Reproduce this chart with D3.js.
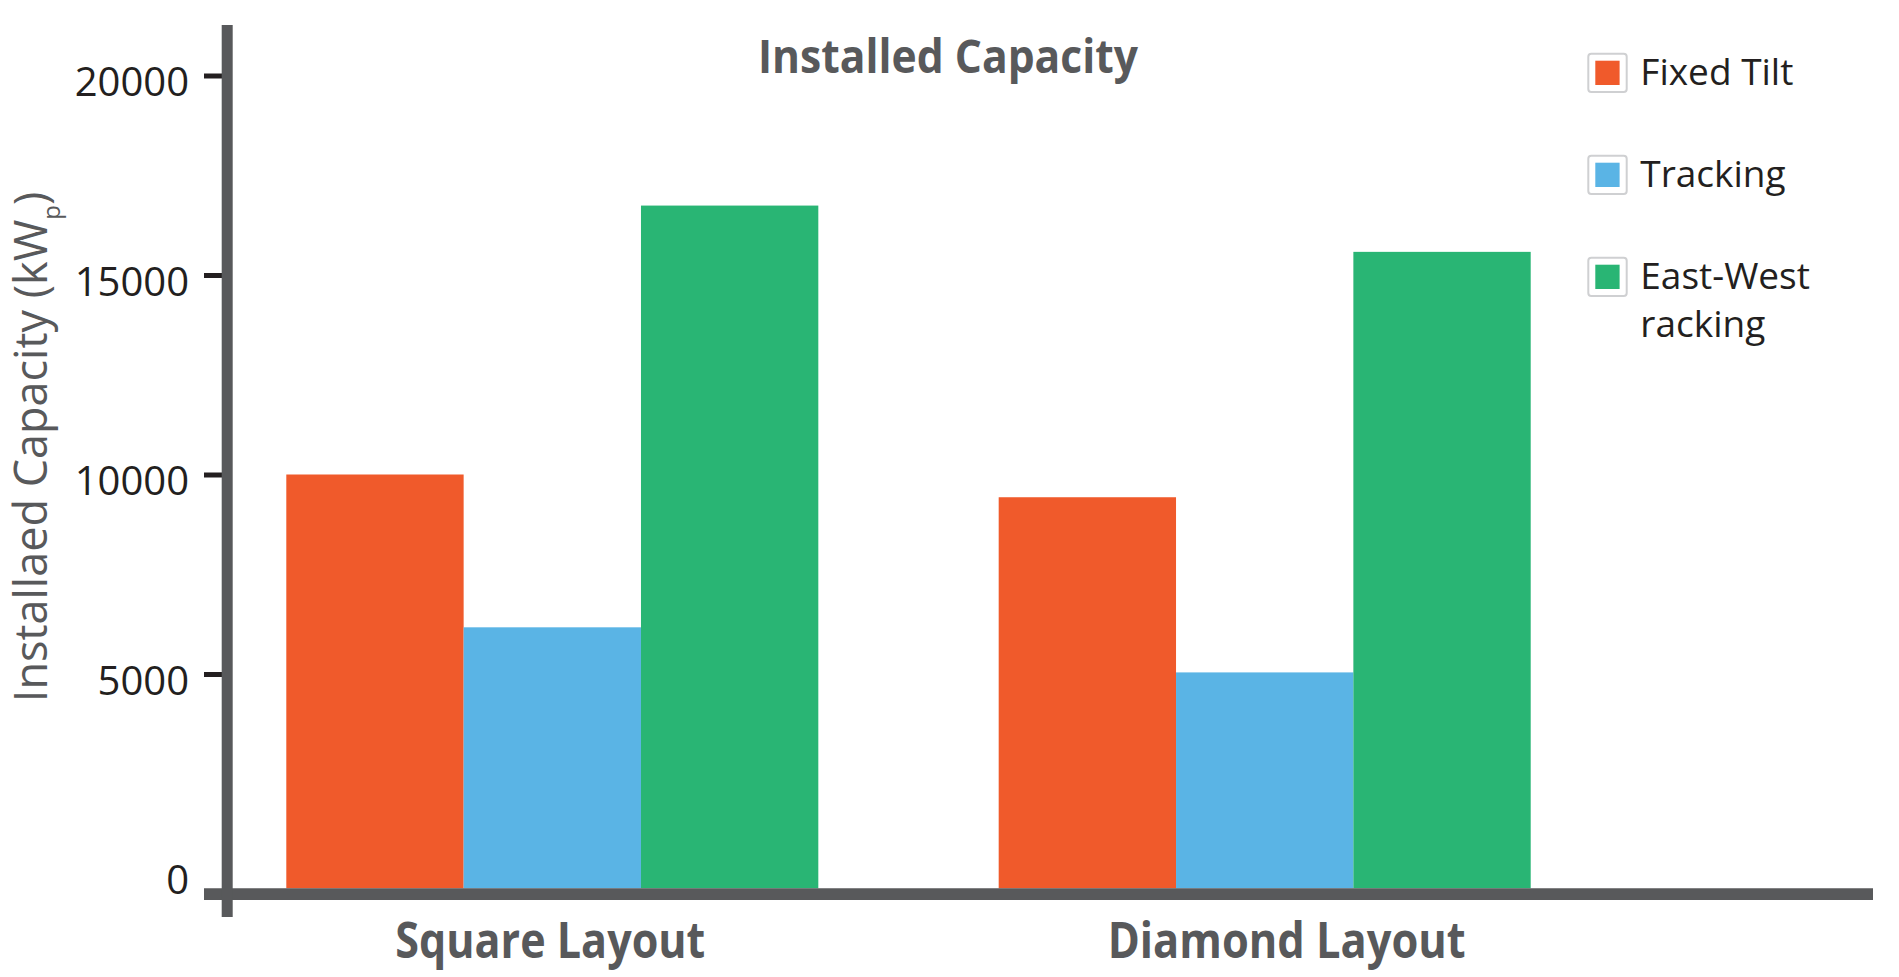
<!DOCTYPE html>
<html>
<head>
<meta charset="utf-8">
<script src="https://cdn.jsdelivr.net/npm/d3@7"></script>
<style>
  html, body { margin: 0; padding: 0; background: #ffffff; }
  svg { display: block; }
</style>
</head>
<body>
<svg id="chart" width="1899" height="977"></svg>
<script>
// ---------- data ----------
const categories = ["Square Layout", "Diamond Layout"];
const seriesNames = ["Fixed Tilt", "Tracking", "East-West racking"];
const fixedTilt = [10000, 9430];
const tracking  = [6170, 5040];
const eastWest  = [16740, 15580];
const yTickValues = [0, 5000, 10000, 15000, 20000];
const legendLines = [["Fixed Tilt"], ["Tracking"], ["East-West", "racking"]];
const chartTitle = "Installed Capacity";
const yTitle = "Installaed Capacity (kW";
const yTitleSub = "p";

// ---------- styles ----------
const seriesColors = ["#f05a2b", "#5ab4e5", "#29b574"];
const axisGray = "#58595b";
const darkText = "#231f20";
const fontFamily = "'Open Sans', 'Noto Sans', sans-serif";

const svg = d3.select("#chart");

// scales
const y = d3.scaleLinear().domain([0, 20000]).range([873.5, 75.5]);
const baselineY = 888.3;

const x0 = d3.scaleBand().domain(categories).range([286.3, 1530.7])
  .paddingInner(0.2532).paddingOuter(0);
const x1 = d3.scaleBand().domain(seriesNames).range([0, x0.bandwidth()]).padding(0);

const seriesValues = [fixedTilt, tracking, eastWest];
const rows = categories.map((c, i) => ({
  cat: c,
  vals: seriesNames.map((s, j) => ({ s, j, v: seriesValues[j][i] }))
}));

// bars
const groups = svg.append("g").selectAll("g").data(rows).join("g")
  .attr("transform", d => `translate(${x0(d.cat)},0)`);
groups.selectAll("rect").data(d => d.vals).join("rect")
  .attr("x", d => x1(d.s))
  .attr("width", x1.bandwidth())
  .attr("y", d => y(d.v))
  .attr("height", d => baselineY - y(d.v))
  .attr("fill", d => seriesColors[d.j]);

// y axis (ticks + labels)
const yAxis = d3.axisLeft(y).tickValues(yTickValues).tickSize(18).tickPadding(15)
  .tickFormat(d3.format("d"));
const yg = svg.append("g").attr("transform", "translate(222,0)").call(yAxis);
yg.select(".domain").remove();
yg.selectAll(".tick line").attr("stroke", darkText).attr("stroke-width", 5)
  .attr("opacity", d => d === 0 ? 0 : 1);
yg.selectAll(".tick text")
  .attr("fill", darkText)
  .attr("font-family", fontFamily)
  .attr("font-size", 40)
  .attr("dy", "0.5em");

// axis lines
svg.append("line").attr("x1", 204).attr("x2", 1873).attr("y1", 894.2).attr("y2", 894.2)
  .attr("stroke", axisGray).attr("stroke-width", 11.7);
svg.append("line").attr("x1", 227.2).attr("x2", 227.2).attr("y1", 25).attr("y2", 917)
  .attr("stroke", axisGray).attr("stroke-width", 11);

// x axis category labels
const xLabelNudge = [-2, 22];
const xLabelLen = [310, 358];
svg.append("g").selectAll("text").data(categories).join("text")
  .attr("x", (d, i) => x0(d) + x0.bandwidth() / 2 + xLabelNudge[i])
  .attr("y", 958)
  .attr("text-anchor", "middle")
  .attr("font-family", fontFamily)
  .attr("font-weight", 700)
  .attr("font-size", 50)
  .attr("fill", axisGray)
  .attr("textLength", (d, i) => xLabelLen[i])
  .attr("lengthAdjust", "spacingAndGlyphs")
  .text(d => d);

// title
svg.append("text")
  .attr("x", 948).attr("y", 72.5)
  .attr("text-anchor", "middle")
  .attr("font-family", fontFamily)
  .attr("font-weight", 700)
  .attr("font-size", 47)
  .attr("fill", axisGray)
  .attr("textLength", 380)
  .attr("lengthAdjust", "spacingAndGlyphs")
  .text(chartTitle);

// y axis title
const yt = svg.append("text")
  .attr("transform", "translate(47,447) rotate(-90)")
  .attr("text-anchor", "middle")
  .attr("font-family", fontFamily)
  .attr("font-size", 45)
  .attr("fill", axisGray);
yt.append("tspan").text(yTitle);
yt.append("tspan").attr("font-size", 24).attr("dy", 13).text(yTitleSub);
yt.append("tspan").attr("dy", -13).text(")");

// legend
const legend = svg.append("g");
const lg = legend.selectAll("g").data(seriesNames).join("g")
  .attr("transform", (d, i) => `translate(1587.3,${52.7 + i * 102})`);
lg.append("rect").attr("x", 1).attr("y", 1).attr("width", 38.4).attr("height", 38.4)
  .attr("rx", 3).attr("fill", "#ffffff").attr("stroke", "#cfd0d2").attr("stroke-width", 2);
lg.append("rect").attr("x", 8).attr("y", 8).attr("width", 24.3).attr("height", 24.3)
  .attr("fill", (d, i) => seriesColors[i]);
lg.each(function(d, i) {
  const t = d3.select(this).append("text")
    .attr("x", 53).attr("y", 32.3)
    .attr("font-family", fontFamily)
    .attr("font-size", 37)
    .attr("fill", darkText);
  legendLines[i].forEach((line, k) => {
    t.append("tspan").attr("x", 53).attr("dy", k === 0 ? 0 : 48).text(line);
  });
});
</script>
</body>
</html>
